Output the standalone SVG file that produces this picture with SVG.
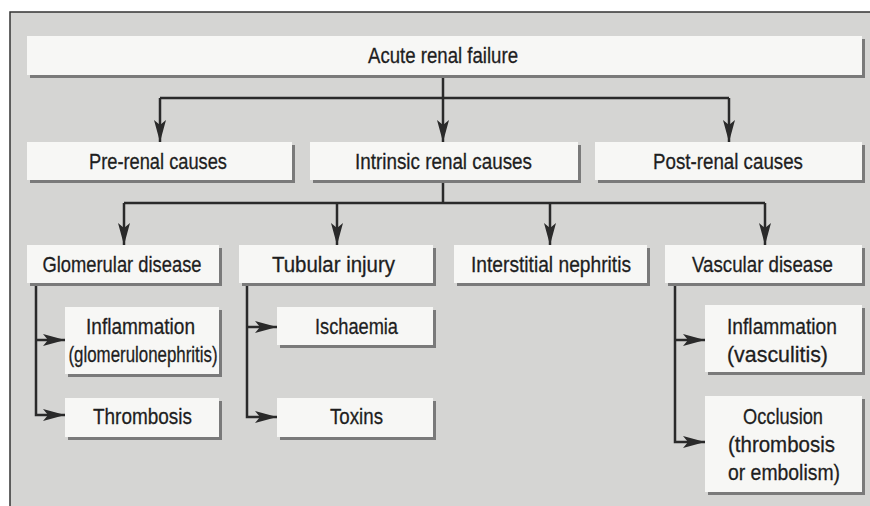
<svg xmlns="http://www.w3.org/2000/svg" width="870" height="506" viewBox="0 0 870 506">
<defs>
<marker id="ah" markerUnits="userSpaceOnUse" viewBox="0 -6 22 12" markerWidth="22" markerHeight="12" refX="22" refY="0" orient="auto">
<path d="M0,-6 L22,0 L0,6 L5,0 Z" fill="#2a2a2a"/>
</marker>
</defs>
<style>
.sh{fill:#7a7a7a}
.bx{fill:#f7f7f5}
.t{font-family:"Liberation Sans Narrow","Liberation Sans",Arial,sans-serif;font-size:22px;fill:#1e1e1e;stroke:#1e1e1e;stroke-width:0.3;text-anchor:middle}
.c{fill:none;stroke:#2a2a2a;stroke-width:2.5}
</style>
<rect x="0" y="0" width="870" height="506" fill="#ffffff"/>
<rect x="10" y="12" width="860" height="494" fill="#d5d5d3"/>
<path d="M10,506 V12 H870" fill="none" stroke="#333" stroke-width="1.5"/>

<g id="connectors">
<path class="c" d="M443,75 V98"/>
<path class="c" d="M160,98 H729"/>
<path class="c" d="M160,98 V142" marker-end="url(#ah)"/>
<path class="c" d="M443,98 V142" marker-end="url(#ah)"/>
<path class="c" d="M729,98 V142" marker-end="url(#ah)"/>
<path class="c" d="M443,180 V203"/>
<path class="c" d="M124,203 H765"/>
<path class="c" d="M124,203 V245" marker-end="url(#ah)"/>
<path class="c" d="M337,203 V245" marker-end="url(#ah)"/>
<path class="c" d="M550,203 V245" marker-end="url(#ah)"/>
<path class="c" d="M765,203 V245" marker-end="url(#ah)"/>
<path class="c" d="M36,283 V415 H65" marker-end="url(#ah)"/>
<path class="c" d="M36,340 H65" marker-end="url(#ah)"/>
<path class="c" d="M247,283 V417 H277" marker-end="url(#ah)"/>
<path class="c" d="M247,327 H277" marker-end="url(#ah)"/>
<path class="c" d="M675,283 V442 H705" marker-end="url(#ah)"/>
<path class="c" d="M675,340 H705" marker-end="url(#ah)"/>
</g>

<g id="acute">
<rect class="sh" x="30" y="39" width="835" height="39"/>
<rect class="bx" x="27" y="36" width="835" height="39"/>
<text class="t" x="443" y="63" textLength="150" lengthAdjust="spacingAndGlyphs">Acute renal failure</text>
</g>
<g id="prerenal">
<rect class="sh" x="30" y="145" width="265" height="38"/>
<rect class="bx" x="27" y="142" width="265" height="38"/>
<text class="t" x="158" y="169" textLength="138" lengthAdjust="spacingAndGlyphs">Pre-renal causes</text>
</g>
<g id="intrinsic">
<rect class="sh" x="313" y="145" width="268" height="38"/>
<rect class="bx" x="310" y="142" width="268" height="38"/>
<text class="t" x="443.5" y="169" textLength="177" lengthAdjust="spacingAndGlyphs">Intrinsic renal causes</text>
</g>
<g id="postrenal">
<rect class="sh" x="598" y="145" width="267" height="38"/>
<rect class="bx" x="595" y="142" width="267" height="38"/>
<text class="t" x="728" y="169" textLength="150" lengthAdjust="spacingAndGlyphs">Post-renal causes</text>
</g>
<g id="glomerular">
<rect class="sh" x="30" y="248" width="192" height="38"/>
<rect class="bx" x="27" y="245" width="192" height="38"/>
<text class="t" x="122" y="272" textLength="159" lengthAdjust="spacingAndGlyphs">Glomerular disease</text>
</g>
<g id="tubular">
<rect class="sh" x="242" y="248" width="194" height="38"/>
<rect class="bx" x="239" y="245" width="194" height="38"/>
<text class="t" x="333.5" y="272" textLength="123" lengthAdjust="spacingAndGlyphs">Tubular injury</text>
</g>
<g id="interstitial">
<rect class="sh" x="457" y="248" width="193" height="38"/>
<rect class="bx" x="454" y="245" width="193" height="38"/>
<text class="t" x="551" y="272" textLength="160" lengthAdjust="spacingAndGlyphs">Interstitial nephritis</text>
</g>
<g id="vascular">
<rect class="sh" x="668" y="248" width="197" height="38"/>
<rect class="bx" x="665" y="245" width="197" height="38"/>
<text class="t" x="762.5" y="272" textLength="141" lengthAdjust="spacingAndGlyphs">Vascular disease</text>
</g>
<g id="glom-inflammation">
<rect class="sh" x="68" y="310" width="154" height="67"/>
<rect class="bx" x="65" y="307" width="154" height="67"/>
<text class="t" x="140.5" y="334" textLength="109" lengthAdjust="spacingAndGlyphs">Inflammation</text>
<text class="t" x="143" y="362" textLength="149" lengthAdjust="spacingAndGlyphs">(glomerulonephritis)</text>
</g>
<g id="thrombosis">
<rect class="sh" x="68" y="401" width="154" height="39"/>
<rect class="bx" x="65" y="398" width="154" height="39"/>
<text class="t" x="142.5" y="424" textLength="99" lengthAdjust="spacingAndGlyphs">Thrombosis</text>
</g>
<g id="ischaemia">
<rect class="sh" x="280" y="310" width="156" height="38"/>
<rect class="bx" x="277" y="307" width="156" height="38"/>
<text class="t" x="356.5" y="334" textLength="83" lengthAdjust="spacingAndGlyphs">Ischaemia</text>
</g>
<g id="toxins">
<rect class="sh" x="280" y="401" width="156" height="39"/>
<rect class="bx" x="277" y="398" width="156" height="39"/>
<text class="t" x="356.5" y="424" textLength="53" lengthAdjust="spacingAndGlyphs">Toxins</text>
</g>
<g id="vasc-inflammation">
<rect class="sh" x="708" y="308" width="157" height="67"/>
<rect class="bx" x="705" y="305" width="157" height="67"/>
<text class="t" x="782" y="334" textLength="110" lengthAdjust="spacingAndGlyphs">Inflammation</text>
<text class="t" x="777.5" y="362" textLength="101" lengthAdjust="spacingAndGlyphs">(vasculitis)</text>
</g>
<g id="occlusion">
<rect class="sh" x="708" y="399" width="157" height="96"/>
<rect class="bx" x="705" y="396" width="157" height="96"/>
<text class="t" x="783" y="424" textLength="80" lengthAdjust="spacingAndGlyphs">Occlusion</text>
<text class="t" x="781.5" y="452" textLength="107" lengthAdjust="spacingAndGlyphs">(thrombosis</text>
<text class="t" x="784" y="480" textLength="112" lengthAdjust="spacingAndGlyphs">or embolism)</text>
</g>
</svg>
